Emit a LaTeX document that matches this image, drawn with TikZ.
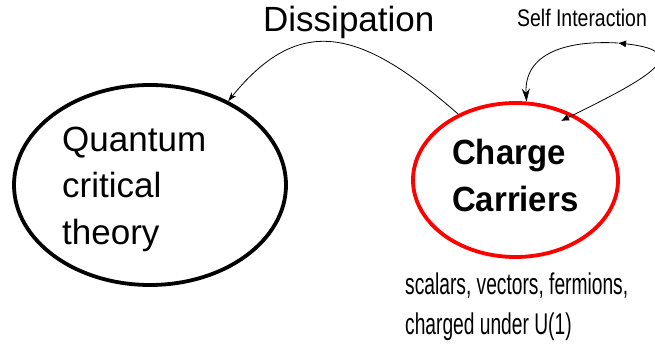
\documentclass[tikz,border=0pt]{standalone}
\usepackage{fontspec}
\setmainfont{Liberation Sans}
\usetikzlibrary{shapes.geometric,arrows.meta}
\begin{document}
\begin{tikzpicture}[x=1pt,y=1pt,
  bubble/.style={ellipse,draw,line width=3.8pt,inner sep=0pt},
  big/.style={inner sep=0pt,anchor=base west,font=\fontsize{35}{42}\selectfont},
  small/.style={inner sep=0pt,anchor=base west},
  thinarrow/.style={line width=0.8pt}
]
\useasboundingbox (0,0) rectangle (655,352);
% ellipses
\node[bubble,minimum width=272pt,minimum height=200pt] (qct) at (150,167) {};
\node[bubble,draw=red,minimum width=205pt,minimum height=154pt] (cc) at (515.5,172) {};
% texts
\node[big] (q1) at (62,200) {Quantum};
\node[big] (q2) at (62,154) {critical};
\node[big] (q3) at (62,107) {theory};
\node[small] (c1) at (452,187) {\scalebox{0.94}[1]{\fontsize{35}{42}\selectfont\bfseries Charge}};
\node[small] (c2) at (452,140) {\scalebox{0.94}[1]{\fontsize{35}{42}\selectfont\bfseries Carriers}};
\node[big] (diss) at (263,320) {Dissipation};
\node[small] (self) at (517,325) {\scalebox{0.81}[1]{\fontsize{24}{28}\selectfont Self Interaction}};
\node[small] (b1) at (405,57) {\scalebox{0.64}[1]{\fontsize{30}{36}\selectfont scalars, vectors, fermions,}};
\node[small] (b2) at (405,17) {\scalebox{0.64}[1]{\fontsize{30}{36}\selectfont charged under U(1)}};
% dissipation arrow
\draw[thinarrow,-{Stealth[length=9pt,width=6pt]}] (cc.131) .. controls (363,321) and (301,341) .. (qct.47);
% self interaction loop
\coordinate (sA) at (561,231);
\coordinate (sT) at (618,309);
\draw[thinarrow,{Latex[length=8pt,width=7pt]}-{Latex[length=8pt,width=7pt]}] (sA) .. controls (640,270) and (700,300) .. (sT);
\draw[thinarrow,-{Stealth[length=13pt,width=8pt]}] (sT) .. controls (565,312) and (524,298) .. (cc.82);
\end{tikzpicture}
\end{document}
